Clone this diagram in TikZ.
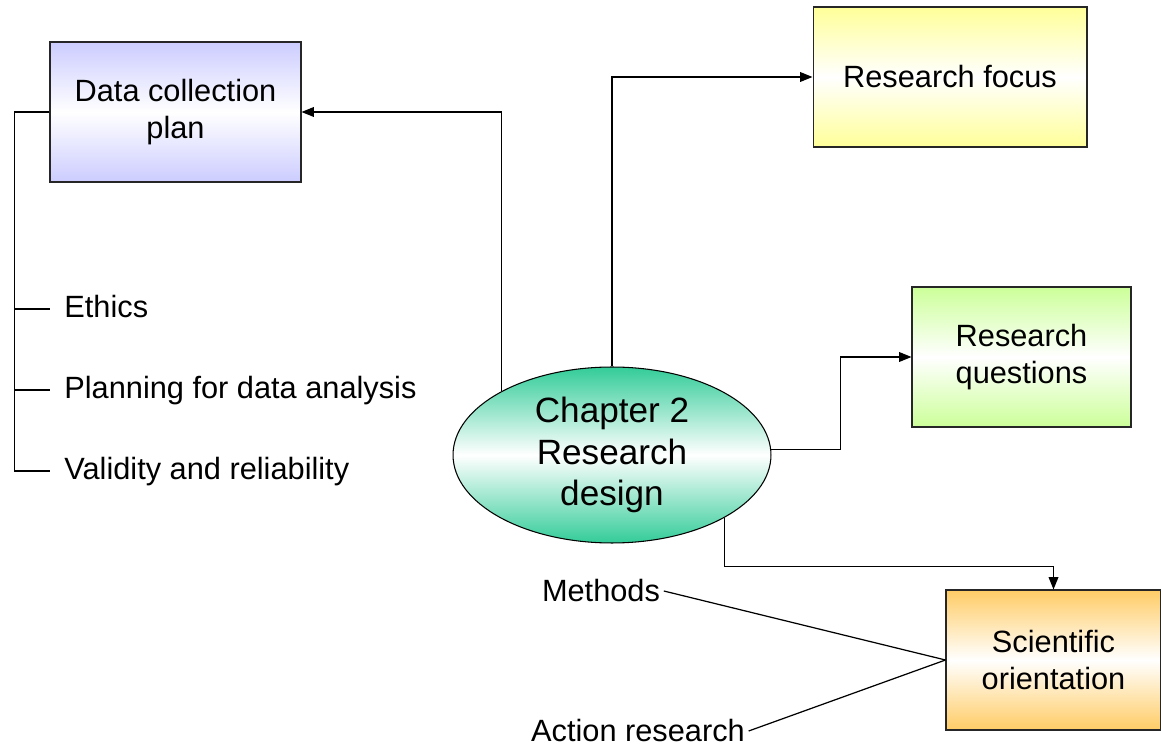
\documentclass[tikz,border=0pt]{standalone}
\usepackage{fontspec}
\setmainfont{Liberation Sans}
\usetikzlibrary{shapes.geometric,arrows.meta}
\definecolor{planblue}{RGB}{204,204,255}
\definecolor{focusyellow}{RGB}{255,255,153}
\definecolor{questgreen}{RGB}{204,255,153}
\definecolor{orientorange}{RGB}{255,204,102}
\definecolor{chapteal}{RGB}{51,204,153}

\begin{document}
\begin{tikzpicture}[x=0.02cm,y=-0.02cm,
		>={Triangle[length=7pt,width=5.5pt]},
		every node/.style={font=\fontsize{17.5}{21.5}\selectfont},
		box/.style={draw=black!85,line width=0.6pt,align=center,inner sep=0pt,minimum height=2.8cm},
		shade box/.style={box,top color=#1,bottom color=#1,middle color=white},
		item/.style={anchor=west,inner xsep=8pt,text height=1em,text depth=0.04em},
		link/.style={line width=0.7pt}]
	\useasboundingbox (0,0) rectangle (1161,746);
	\node[shade box=planblue,minimum width=5.02cm] (dcp) at (175.5,112) {Data collection\\plan};
	\node[shade box=focusyellow,minimum width=5.48cm] (rf) at (950,77) {Research focus};
	\node[shade box=questgreen,minimum width=4.38cm] (rq) at (1021.5,357) {Research\\questions};
	\node[shade box=orientorange,minimum width=4.3cm] (so) at (1053.5,660) {Scientific\\orientation};
	\node[ellipse,draw=black,line width=0.6pt,top color=chapteal,bottom color=chapteal,middle color=white,
		minimum width=6.36cm,minimum height=3.52cm,inner sep=0pt,align=center,
		font=\fontsize{20}{23.8}\selectfont] (chap) at (612,455) {Chapter 2\\Research\\design};
	\node[item] (eth) at (50,309) {Ethics};
	\node[item] (pda) at (50,390) {Planning for data analysis};
	\node[item] (vr) at (50,471) {Validity and reliability};
	\node[inner sep=2pt] (meth) at (601,591) {Methods};
	\node[inner sep=2pt] (act) at (638,731) {Action research};
	\draw[link,->] (chap.north) |- (rf.west);
	\draw[link,->] (chap.150.8) |- (dcp.east);
	\draw[link,->] (chap.2) -- ++(69,0) |- (rq.west);
	\draw[link,->] (chap.-29.6) -- ++(0,49) -| (so.north);
	\draw[link] (dcp.west) -- ++(-35,0) coordinate (spine) |- (vr.west);
	\draw[link] (spine |- eth.west) -- (eth.west);
	\draw[link] (spine |- pda.west) -- (pda.west);
	\draw[link] (meth.east) -- (so.west);
	\draw[link] (act.east) -- (so.west);
\end{tikzpicture}
\end{document}
